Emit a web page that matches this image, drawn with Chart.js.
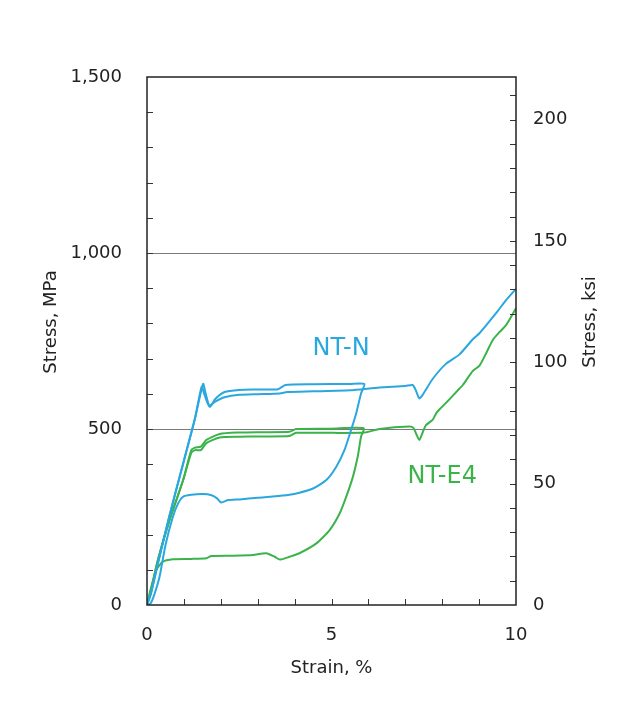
<!DOCTYPE html>
<html>
<head>
<meta charset="utf-8">
<script src="https://cdn.jsdelivr.net/npm/chart.js@4.4.1/dist/chart.umd.min.js"></script>
<style>
html, body { margin: 0; padding: 0; background: #fff; }
</style>
</head>
<body>
<canvas id="chart" width="632" height="711"></canvas>
<script>
// NT-N: load/unload cycle to ~5.9 %
var ntnCycleStrain = [0, 0.1, 0.3, 0.6, 1.0, 1.3, 1.52, 1.58, 1.7, 1.85, 2.1, 2.5, 3.0, 3.55, 3.75, 4.5, 5.5, 5.89,
  5.8, 5.67, 5.53, 5.35, 5.13, 4.86, 4.5, 4.13, 3.86, 3.41, 3.0, 2.51, 2.2, 2.01, 1.9, 1.75, 1.5, 1.2, 0.98, 0.85, 0.7, 0.5, 0.34, 0.2, 0.1, 0];
var ntnCycleStress = [0, 30, 120, 250, 410, 530, 628, 605, 563, 585, 605, 611, 612, 613, 625, 627, 628, 628,
  601, 545, 497, 440, 393, 355, 331, 319, 313, 308, 305, 300, 298, 291, 303, 312, 315, 313, 308, 290, 250, 170, 80, 30, 5, 0];

// NT-N: tensile curve to 10 %
var ntnPullStrain = [0, 0.1, 0.3, 0.6, 1.0, 1.3, 1.48, 1.55, 1.68, 1.85, 2.1, 2.5, 3.0, 3.6, 3.8, 4.5, 5.5, 6.3, 7.0, 7.2, 7.28, 7.38, 7.47, 7.74, 8.1, 8.47, 8.83, 9.01, 9.46, 9.73, 10];
var ntnPullStress = [0, 30, 120, 250, 410, 530, 620, 600, 566, 578, 590, 597, 599, 601, 605, 607, 610, 618, 622, 625, 611, 587, 597, 642, 685, 712, 755, 772, 829, 866, 898];

// NT-E4: load/unload cycle to ~5.9 %
var nte4CycleStrain = [0, 0.1, 0.3, 0.61, 0.98, 1.2, 1.3, 1.46, 1.61, 1.97, 2.51, 3.0, 3.86, 4.04, 5.0, 5.87,
  5.8, 5.71, 5.58, 5.4, 5.22, 4.95, 4.59, 4.13, 3.86, 3.6, 3.46, 3.23, 2.87, 2.3, 1.74, 1.61, 1.2, 0.7, 0.43, 0.25, 0.07, 0];
var nte4CycleStress = [0, 40, 130, 241, 355, 440, 447, 450, 469, 486, 490, 491, 492, 500, 501, 502,
  478, 421, 364, 308, 260, 213, 175, 147, 137, 129, 137, 147, 142, 140, 139, 133, 131, 130, 123, 99, 33, 0];

// NT-E4: tensile curve to 10 %
var nte4PullStrain = [0, 0.1, 0.3, 0.61, 0.98, 1.2, 1.3, 1.46, 1.61, 1.97, 2.51, 3.0, 3.86, 4.04, 5.0, 5.9, 6.3, 7.11, 7.22, 7.3, 7.38, 7.47, 7.56, 7.74, 7.84, 7.93, 8.11, 8.47, 8.56, 8.83, 9.01, 9.19, 9.37, 9.55, 9.73, 10];
var nte4PullStress = [0, 40, 130, 241, 355, 432, 440, 440, 460, 476, 478, 479, 480, 489, 489, 490, 500, 507, 503, 485, 469, 490, 511, 526, 545, 556, 575, 615, 625, 665, 680, 715, 753, 775, 795, 843];

var xTicks = [0, 5, 10];
var mpaTicks = [0, 500, 1000, 1500];
var ksiTicks = [0, 50, 100, 150, 200];
var MPA_PER_KSI = 6.894757;

var BLUE = '#2aa7df';
var GREEN = '#3bb34a';
var FONT = "'DejaVu Sans', sans-serif";

function pairs(xs, ys) {
  return xs.map(function(x, i) { return { x: x, y: ys[i] }; });
}

function curve(label, xs, ys, color) {
  return {
    label: label,
    data: pairs(xs, ys),
    borderColor: color,
    backgroundColor: color,
    borderWidth: 2,
    pointRadius: 0,
    tension: 0.2,
    fill: false
  };
}

var decorations = {
  id: 'decorations',
  afterDatasetsDraw: function(chart) {
    var ctx = chart.ctx;
    var a = chart.chartArea;
    var x = chart.scales.x, y = chart.scales.y, y2 = chart.scales.y2;
    ctx.save();
    // minor tick marks, pointing inward
    ctx.strokeStyle = '#333';
    ctx.lineWidth = 1;
    ctx.beginPath();
    var v, p;
    for (v = 100; v < 1500; v += 100) {
      p = Math.round(y.getPixelForValue(v)) + 0.5;
      ctx.moveTo(a.left, p); ctx.lineTo(a.left + 6, p);
    }
    for (v = 10; v < 217; v += 10) {
      p = Math.round(y2.getPixelForValue(v)) + 0.5;
      ctx.moveTo(a.right - 6, p); ctx.lineTo(a.right, p);
    }
    for (v = 1; v < 10; v += 1) {
      p = Math.round(x.getPixelForValue(v)) + 0.5;
      ctx.moveTo(p, a.bottom - 6); ctx.lineTo(p, a.bottom);
    }
    ctx.stroke();
    // frame
    ctx.strokeStyle = '#222';
    ctx.lineWidth = 1.5;
    ctx.strokeRect(a.left, a.top, a.right - a.left, a.bottom - a.top);
    // series labels
    ctx.font = '24px ' + FONT;
    ctx.textAlign = 'center';
    ctx.textBaseline = 'alphabetic';
    ctx.fillStyle = BLUE;
    ctx.fillText('NT-N', x.getPixelForValue(5.26), y.getPixelForValue(709));
    ctx.fillStyle = GREEN;
    ctx.fillText('NT-E4', x.getPixelForValue(8.0), y.getPixelForValue(347));
    // axis titles, reading upward
    ctx.font = '18px ' + FONT;
    ctx.fillStyle = '#222';
    ctx.textBaseline = 'middle';
    ctx.save();
    ctx.translate(51, 322);
    ctx.rotate(-Math.PI / 2);
    ctx.fillText('Stress, MPa', 0, 0);
    ctx.restore();
    ctx.translate(590, 322);
    ctx.rotate(-Math.PI / 2);
    ctx.fillText('Stress, ksi', 0, 0);
    ctx.restore();
  }
};

var ctx = document.getElementById('chart').getContext('2d');
new Chart(ctx, {
  type: 'line',
  data: {
    datasets: [
      curve('NT-N cycle', ntnCycleStrain, ntnCycleStress, BLUE),
      curve('NT-N', ntnPullStrain, ntnPullStress, BLUE),
      curve('NT-E4 cycle', nte4CycleStrain, nte4CycleStress, GREEN),
      curve('NT-E4', nte4PullStrain, nte4PullStress, GREEN)
    ]
  },
  options: {
    responsive: false,
    animation: false,
    locale: 'en-US',
    layout: { padding: { top: 77, left: 0, right: 0, bottom: 0 } },
    plugins: {
      legend: { display: false },
      tooltip: { enabled: false }
    },
    scales: {
      x: {
        type: 'linear',
        min: 0,
        max: 10,
        afterFit: function(s) { s.height = 106; },
        afterBuildTicks: function(s) { s.ticks = xTicks.map(function(v) { return { value: v }; }); },
        grid: { display: false, drawTicks: false },
        border: { display: false },
        ticks: { padding: 20, color: '#222', font: { size: 18, family: FONT } },
        title: {
          display: true,
          text: 'Strain, %',
          color: '#222',
          font: { size: 18, family: FONT },
          padding: { top: 0, bottom: 32 }
        }
      },
      y: {
        type: 'linear',
        position: 'left',
        min: 0,
        max: 1500,
        afterFit: function(s) { s.width = 147; },
        afterBuildTicks: function(s) { s.ticks = mpaTicks.map(function(v) { return { value: v }; }); },
        grid: {
          drawTicks: false,
          lineWidth: 1,
          color: function(c) {
            var v = c.tick && c.tick.value;
            return (v === 500 || v === 1000) ? '#7a7a7a' : 'rgba(0,0,0,0)';
          }
        },
        border: { display: false },
        ticks: { padding: 25, color: '#222', font: { size: 18, family: FONT } },
        title: { display: false }
      },
      y2: {
        type: 'linear',
        position: 'right',
        min: 0,
        max: 1500 / MPA_PER_KSI,
        afterFit: function(s) { s.width = 116; },
        afterBuildTicks: function(s) { s.ticks = ksiTicks.map(function(v) { return { value: v }; }); },
        grid: { display: false, drawTicks: false },
        border: { display: false },
        ticks: { padding: 17, color: '#222', font: { size: 18, family: FONT } }
      }
    }
  },
  plugins: [decorations]
});
</script>
</body>
</html>
